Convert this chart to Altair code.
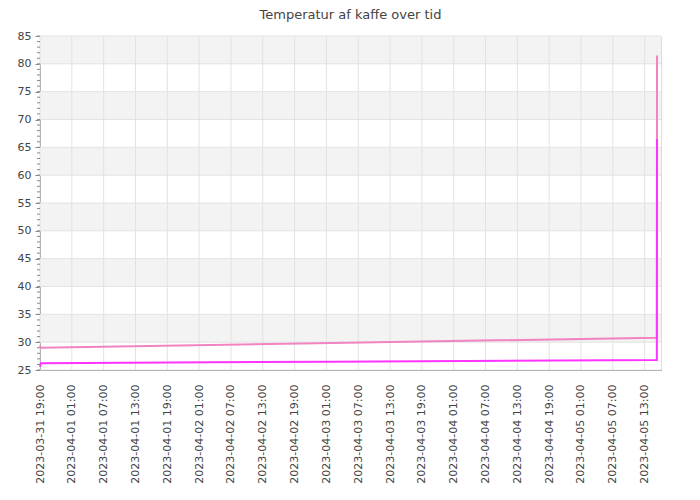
import altair as alt
import pandas as pd
from datetime import datetime

# ---- data ----
times = ["2023-03-31T19:00", "2023-03-31T19:10", "2023-04-03T02:00",
         "2023-04-05T15:18", "2023-04-05T15:20"]
pink_values = [29.4, 29.0, 29.85, 30.8, 81.5]
magenta_values = [25.6, 26.2, 26.5, 26.8, 66.5]

x_tick_labels = [
    "2023-03-31 19:00", "2023-04-01 01:00", "2023-04-01 07:00", "2023-04-01 13:00",
    "2023-04-01 19:00", "2023-04-02 01:00", "2023-04-02 07:00", "2023-04-02 13:00",
    "2023-04-02 19:00", "2023-04-03 01:00", "2023-04-03 07:00", "2023-04-03 13:00",
    "2023-04-03 19:00", "2023-04-04 01:00", "2023-04-04 07:00", "2023-04-04 13:00",
    "2023-04-04 19:00", "2023-04-05 01:00", "2023-04-05 07:00", "2023-04-05 13:00",
]
x_domain = ["2023-03-31 19:00", "2023-04-05 16:05"]
y_ticks = [25, 30, 35, 40, 45, 50, 55, 60, 65, 70, 75, 80, 85]
y_minor = list(range(25, 86))
band_starts = [30, 40, 50, 60, 70, 80]
band_width = 5

# ---- build tables ----
def dt(s):
    d = datetime.strptime(s, "%Y-%m-%d %H:%M")
    return alt.DateTime(year=d.year, month=d.month, date=d.day, hours=d.hour, minutes=d.minute)

lines = pd.DataFrame({
    "time": times * 2,
    "value": pink_values + magenta_values,
    "series": ["pink"] * len(times) + ["magenta"] * len(times),
})
xgrid = pd.DataFrame({"time": [s.replace(" ", "T") for s in x_tick_labels]})
ygrid = pd.DataFrame({"value": y_ticks})
yminor = pd.DataFrame({"value": y_minor})
bands = pd.DataFrame({"value": band_starts, "value2": [b + band_width for b in band_starts]})

AXC = "#888888"
LBL = "#444444"
FONT = "DejaVu Sans"

xscale = alt.Scale(domain=[dt(s) for s in x_domain], nice=False)
yscale = alt.Scale(domain=[y_ticks[0], y_ticks[-1]], nice=False, zero=False)

xaxis = alt.Axis(values=[dt(s) for s in x_tick_labels], format="%Y-%m-%d %H:%M",
                 labelAngle=270, grid=False, ticks=False, title=None,
                 labelPadding=14, labelFontSize=11, labelFont=FONT, labelColor=LBL,
                 domainColor=AXC, labelOverlap=False, labelFlush=False)
yaxis = alt.Axis(values=y_ticks, grid=False, title=None, tickSize=5, tickColor=AXC,
                 domainColor=AXC, labelPadding=4, labelFontSize=11, labelFont=FONT,
                 labelColor=LBL)

band_layer = alt.Chart(bands).mark_rect(color="#f3f3f3").encode(
    y=alt.Y("value:Q", scale=yscale, axis=yaxis),
    y2="value2:Q",
)
ygrid_layer = alt.Chart(ygrid).mark_rule(color="#e2e2e2", strokeWidth=1).encode(
    y=alt.Y("value:Q", scale=yscale, axis=yaxis),
)
xgrid_layer = alt.Chart(xgrid).mark_rule(color="#e2e2e2", strokeWidth=1).encode(
    x=alt.X("time:T", scale=xscale, axis=xaxis),
)
minor_layer = alt.Chart(yminor).mark_rule(color=AXC, strokeWidth=1, clip=False).encode(
    y=alt.Y("value:Q", scale=yscale, axis=yaxis),
    x=alt.value(-3),
    x2=alt.value(0),
)
line_layer = alt.Chart(lines).mark_line(strokeWidth=2, interpolate="linear").encode(
    x=alt.X("time:T", scale=xscale, axis=xaxis),
    y=alt.Y("value:Q", scale=yscale, axis=yaxis),
    color=alt.Color("series:N", scale=alt.Scale(domain=["pink", "magenta"],
                                                range=["#f283c2", "#ff33ff"]), legend=None),
    order=alt.Order("series:N"),
)

chart = alt.layer(band_layer, ygrid_layer, xgrid_layer, minor_layer, line_layer).properties(
    width=621,
    height=334,
    title=alt.TitleParams("Temperatur af kaffe over tid", fontSize=13, font=FONT,
                          fontWeight="normal", color=LBL, anchor="middle", offset=8),
    autosize=alt.AutoSizeParams(type="none"),
    padding={"left": 32, "top": 28, "right": 31, "bottom": 118},
).configure_view(stroke=None).configure(background="white")

chart.save("out.html", embed_options={"renderer": "svg", "actions": False})
